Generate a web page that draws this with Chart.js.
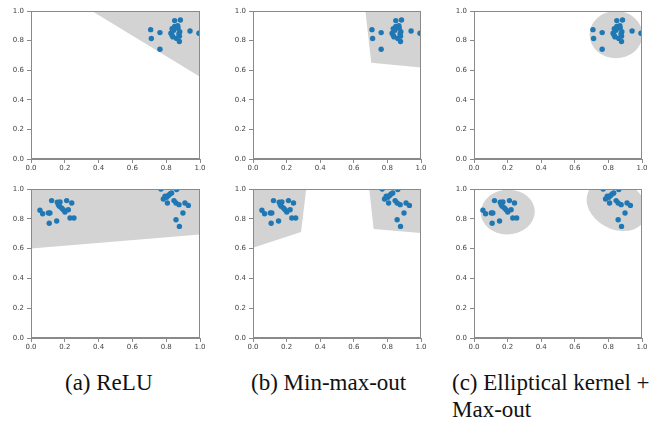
<!DOCTYPE html>
<html lang="en">
<head>
  <meta charset="UTF-8">
  <title>Decision regions</title>
  <style>
    body { margin: 0; background: #fff; width: 662px; height: 422px; overflow: hidden; position: relative; }
    .panel { position: absolute; }
    .cap {
      position: absolute;
      font-family: "Liberation Serif", "LiberationSerif", "Liberation Serif Regular", "Noto Serif",
        "Nimbus Roman", "Nimbus Roman No9 L", "FreeSerif", "Times New Roman", Times, "DejaVu Serif", serif;
      font-size: 23px;
      line-height: 27px;
      color: #111;
      white-space: nowrap;
    }
  </style>
</head>
<body>
  <div class="panel" id="p0"><canvas id="c0" width="215" height="175"></canvas></div>
  <div class="panel" id="p1"><canvas id="c1" width="215" height="175"></canvas></div>
  <div class="panel" id="p2"><canvas id="c2" width="215" height="175"></canvas></div>
  <div class="panel" id="p3"><canvas id="c3" width="215" height="176"></canvas></div>
  <div class="panel" id="p4"><canvas id="c4" width="215" height="176"></canvas></div>
  <div class="panel" id="p5"><canvas id="c5" width="215" height="176"></canvas></div>

  <div class="cap" style="left:65px; top:369px;">(a) ReLU</div>
  <div class="cap" style="left:251px; top:369px;">(b) Min-max-out</div>
  <div class="cap" style="left:452px; top:369px;">(c) Elliptical kernel +<br>Max-out</div>

  <script src="https://cdn.jsdelivr.net/npm/chart.js"></script>
  <script>
    // axis ticks shared by every panel
    const tickValues = [0, 0.2, 0.4, 0.6, 0.8, 1.0];

    // one cluster (top row)
    const clusterX = [0.708, 0.712, 0.763, 0.763, 0.850, 0.884, 0.941, 0.994, 0.878,
      0.835, 0.850, 0.870, 0.880, 0.878, 0.862, 0.840, 0.828, 0.845, 0.875, 0.835, 0.868];
    const clusterY = [0.874, 0.814, 0.854, 0.742, 0.935, 0.939, 0.865, 0.850, 0.794,
      0.880, 0.895, 0.885, 0.860, 0.830, 0.815, 0.825, 0.850, 0.870, 0.845, 0.835, 0.900];

    // two clusters (bottom row)
    const twoX = [0.053, 0.069, 0.103, 0.112, 0.108, 0.122, 0.152, 0.156, 0.172, 0.168, 0.181,
      0.191, 0.201, 0.211, 0.221, 0.241, 0.231, 0.254, 0.162,
      0.769, 0.862, 0.783, 0.803, 0.813, 0.822, 0.832, 0.807, 0.846, 0.858, 0.876, 0.911,
      0.931, 0.899, 0.858, 0.878, 0.793];
    const twoY = [0.857, 0.834, 0.839, 0.839, 0.770, 0.922, 0.785, 0.911, 0.913, 0.884, 0.872,
      0.861, 0.846, 0.922, 0.861, 0.906, 0.805, 0.805, 0.895,
      1.000, 0.996, 0.933, 0.944, 0.957, 0.966, 0.973, 0.906, 0.922, 0.906, 0.895, 0.906,
      0.890, 0.839, 0.794, 0.749, 0.951];

    // shaded regions, in data units
    const reluTop = [[0.36, 1.0], [1.0, 0.556], [1.0, 1.0]];
    const minmaxTop = [[0.669, 1.0], [0.704, 0.65], [1.0, 0.619], [1.0, 1.0]];
    const ellipseTop = [0.845, 0.84, 0.157, 0.16, 0];               // cx, cy, rx, ry, angle (deg)
    const reluBottom = [[0.0, 1.0], [0.0, 0.6], [1.0, 0.695], [1.0, 1.0]];
    const minmaxBottomL = [[0.0, 1.0], [0.0, 0.605], [0.286, 0.711], [0.317, 1.0]];
    const minmaxBottomR = [[0.692, 1.0], [0.718, 0.731], [1.0, 0.705], [1.0, 1.0]];
    const ellipseBottomL = [0.201, 0.845, 0.161, 0.15, 10];
    const ellipseBottomR = [0.85, 0.89, 0.195, 0.155, -40];

    const panels = [
      { id: 'c0', left: 31, top: 11, w: 169, xs: clusterX, ys: clusterY, polys: [reluTop], ells: [] },
      { id: 'c1', left: 253, top: 11, w: 168, xs: clusterX, ys: clusterY, polys: [minmaxTop], ells: [] },
      { id: 'c2', left: 474, top: 11, w: 168, xs: clusterX, ys: clusterY, polys: [], ells: [ellipseTop] },
      { id: 'c3', left: 31, top: 189, w: 169, xs: twoX, ys: twoY, polys: [reluBottom], ells: [] },
      { id: 'c4', left: 253, top: 189, w: 168, xs: twoX, ys: twoY, polys: [minmaxBottomL, minmaxBottomR], ells: [] },
      { id: 'c5', left: 474, top: 189, w: 168, xs: twoX, ys: twoY, polys: [], ells: [ellipseBottomL, ellipseBottomR] }
    ];

    const GRAY = '#d3d3d3';
    const SPINE = '#8a8a8a';

    const regionPlugin = {
      id: 'regions',
      beforeDatasetsDraw(chart, args, opts) {
        const { ctx, chartArea: a, scales: { x, y } } = chart;
        ctx.save();
        ctx.beginPath();
        ctx.rect(a.left, a.top, a.right - a.left, a.bottom - a.top);
        ctx.clip();
        ctx.fillStyle = GRAY;
        for (const poly of opts.polys) {
          ctx.beginPath();
          poly.forEach(([px, py], i) => {
            const X = x.getPixelForValue(px), Y = y.getPixelForValue(py);
            if (i === 0) ctx.moveTo(X, Y); else ctx.lineTo(X, Y);
          });
          ctx.closePath();
          ctx.fill();
        }
        const kx = x.getPixelForValue(1) - x.getPixelForValue(0);
        const ky = y.getPixelForValue(0) - y.getPixelForValue(1);
        for (const [cx, cy, rx, ry, ang] of opts.ells) {
          ctx.save();
          ctx.translate(x.getPixelForValue(cx), y.getPixelForValue(cy));
          ctx.scale(kx, -ky);
          ctx.rotate(ang * Math.PI / 180);
          ctx.beginPath();
          ctx.ellipse(0, 0, rx, ry, 0, 0, Math.PI * 2);
          ctx.restore();
          ctx.fill();
        }
        ctx.restore();
      },
      afterDatasetsDraw(chart) {
        const { ctx, chartArea: a } = chart;
        ctx.save();
        ctx.strokeStyle = SPINE;
        ctx.lineWidth = 1;
        ctx.strokeRect(Math.round(a.left) + 0.5, Math.round(a.top) + 0.5,
          Math.round(a.right - a.left) - 1, Math.round(a.bottom - a.top) - 1);
        ctx.restore();
      }
    };

    const axis = (fitSize, isX) => ({
      type: 'linear',
      min: 0,
      max: 1,
      afterBuildTicks: (s) => { s.ticks = tickValues.map(v => ({ value: v })); },
      afterFit: (s) => { if (isX) s.height = fitSize; else s.width = fitSize; },
      ticks: {
        callback: (v) => Number(v).toFixed(1),
        font: { family: 'DejaVu Sans', size: 7 },
        color: '#444',
        padding: isX ? 1 : 3,
        maxRotation: 0,
        autoSkip: false
      },
      grid: { drawOnChartArea: false, drawTicks: true, tickLength: 4, color: SPINE },
      border: { display: true, color: SPINE }
    });

    panels.forEach(p => {
      const holder = document.getElementById(p.id).parentElement;
      holder.style.left = (p.left - 31) + 'px';
      holder.style.top = (p.top - 11) + 'px';
      const canvas = document.getElementById(p.id);
      canvas.width = 31 + p.w + 15;

      new Chart(canvas, {
        type: 'scatter',
        data: {
          datasets: [{
            data: p.xs.map((v, i) => ({ x: v, y: p.ys[i] })),
            backgroundColor: '#1f77b4',
            borderWidth: 0,
            pointRadius: 2.7,
            clip: 0
          }]
        },
        options: {
          responsive: false,
          animation: false,
          devicePixelRatio: 1,
          layout: { padding: { left: 0, top: 11, right: 15, bottom: 0 } },
          plugins: {
            legend: { display: false },
            tooltip: { enabled: false },
            regions: { polys: p.polys, ells: p.ells }
          },
          scales: { x: axis(16, true), y: axis(31, false) }
        },
        plugins: [regionPlugin]
      });
    });
  </script>
</body>
</html>
